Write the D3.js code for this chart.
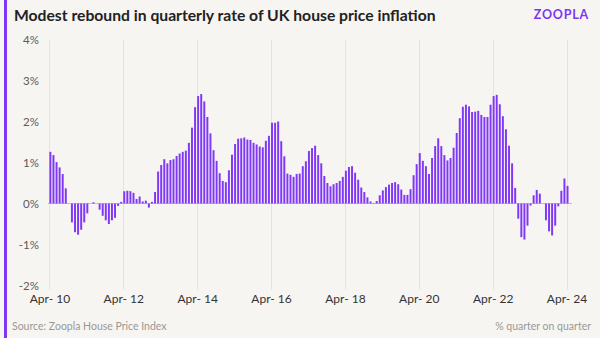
<!DOCTYPE html>
<meta charset="utf-8">
<style>
body { margin: 0; background: #f7f5f2; }
svg { display: block; font-family: Lato, "Open Sans", sans-serif; }
.grid line { stroke: #e6e3df; stroke-width: 1; }
.ylab text { font-size: 11.5px; fill: #5a5a5a; }
.xlab text { font-size: 12px; fill: #333; }
.bar { fill: #8038f7; }
</style>
<body>
<div id="chart"></div>
<script src="https://cdn.jsdelivr.net/npm/d3@7"></script>
<script>
// monthly, Apr 2010 .. Apr 2024
var startMonth = "2010-04",
    endMonth = "2024-04";

// % quarter on quarter
var qoq = [
  1.26, 1.18, 1.01, 0.88, 0.72, 0.37, 0.00, -0.46, -0.70, -0.76, -0.64, -0.46,
  -0.24, 0.00, 0.03, 0.00, -0.15, -0.30, -0.41, -0.50, -0.41, -0.35, -0.06, 0.04,
  0.30, 0.31, 0.30, 0.26, 0.11, 0.17, 0.05, 0.07, -0.10, 0.04, 0.28, 0.78,
  0.94, 1.08, 0.98, 1.06, 1.08, 1.16, 1.22, 1.26, 1.29, 1.48, 1.85, 2.35,
  2.62, 2.67, 2.49, 2.11, 1.71, 1.30, 1.04, 0.74, 0.55, 0.52, 0.81, 1.19,
  1.45, 1.58, 1.59, 1.61, 1.56, 1.55, 1.48, 1.44, 1.39, 1.37, 1.53, 1.65,
  1.97, 1.97, 2.00, 1.52, 1.15, 0.73, 0.70, 0.65, 0.72, 0.73, 0.91, 1.03,
  1.28, 1.35, 1.41, 1.18, 0.98, 0.67, 0.50, 0.42, 0.47, 0.50, 0.55, 0.65,
  0.80, 0.89, 0.91, 0.75, 0.58, 0.39, 0.28, 0.15, 0.05, 0.01, 0.06, 0.20,
  0.32, 0.40, 0.46, 0.50, 0.52, 0.47, 0.34, 0.21, 0.21, 0.35, 0.69, 0.96,
  1.23, 1.04, 0.91, 0.72, 1.11, 1.40, 1.59, 1.40, 1.18, 1.05, 1.11, 1.36,
  1.72, 2.08, 2.36, 2.41, 2.37, 2.23, 2.24, 2.26, 2.16, 2.11, 2.11, 2.41,
  2.62, 2.65, 2.42, 2.13, 1.81, 1.41, 0.98, 0.38, -0.37, -0.82, -0.88, -0.54,
  -0.05, 0.20, 0.33, 0.24, 0.00, -0.41, -0.68, -0.78, -0.54, -0.07, 0.31, 0.61,
  0.43
];

var tickMonths = ["2010-04", "2012-04", "2014-04", "2016-04", "2018-04", "2020-04", "2022-04", "2024-04"];
var tickLabels = ["Apr- 10", "Apr- 12", "Apr- 14", "Apr- 16", "Apr- 18", "Apr- 20", "Apr- 22", "Apr- 24"];
var yTicks = [-2, -1, 0, 1, 2, 3, 4];

var title = "Modest rebound in quarterly rate of UK house price inflation",
    source = "Source: Zoopla House Price Index",
    unitNote = "% quarter on quarter";

var parseM = d3.timeParse("%Y-%m"),
    fmtM = d3.timeFormat("%Y-%m");
var months = d3.timeMonth.range(parseM(startMonth), d3.timeMonth.offset(parseM(endMonth), 1)).map(fmtM);
var data = months.map(function(m, i) { return {month: m, value: qoq[i]}; });

var W = 600, H = 338;
var svg = d3.select("#chart").append("svg").attr("width", W).attr("height", H);

svg.append("rect").attr("width", W).attr("height", H).attr("fill", "#f7f5f2");
svg.append("rect").attr("x", 4).attr("y", 0).attr("width", 3).attr("height", H).attr("fill", "#7d36f6");

var x = d3.scaleBand().domain(months).range([49.4, 569.6]).paddingInner(0.36).paddingOuter(0.18).align(0);
var step = x.step();
var y = d3.scaleLinear().domain([-2, 4]).range([285.5, 39.5]);

// vertical grid at tick months (band start)
svg.append("g").attr("class", "grid")
  .selectAll("line").data(tickMonths).enter().append("line")
  .attr("x1", function(d) { return Math.round(49.4 + months.indexOf(d) * step) + 0.5; })
  .attr("x2", function(d) { return Math.round(49.4 + months.indexOf(d) * step) + 0.5; })
  .attr("y1", y(4)).attr("y2", y(-2) + 4);

svg.append("line")
  .attr("x1", 48).attr("x2", 572)
  .attr("y1", y(0)).attr("y2", y(0))
  .attr("stroke", "#c4c1bd").attr("stroke-width", 1);

svg.selectAll(".bar").data(data).enter().append("rect")
  .attr("class", "bar")
  .attr("x", function(d) { return x(d.month); })
  .attr("width", x.bandwidth())
  .attr("y", function(d) { return y(Math.max(0, d.value)); })
  .attr("height", function(d) { return Math.abs(y(d.value) - y(0)); });

// y labels
svg.append("g").attr("class", "ylab")
  .selectAll("text").data(yTicks).enter().append("text")
  .attr("x", 39).attr("y", function(d) { return y(d); })
  .attr("dy", "0.35em").attr("text-anchor", "end")
  .text(function(d) { return d + "%"; });

// x labels
svg.append("g").attr("class", "xlab")
  .selectAll("text").data(tickMonths).enter().append("text")
  .attr("x", function(d) { return 49.4 + months.indexOf(d) * step + 0.5; })
  .attr("y", 303).attr("text-anchor", "middle")
  .text(function(d, i) { return tickLabels[i]; });

svg.append("text").attr("x", 14).attr("y", 21)
  .attr("font-size", 15.7).attr("font-weight", 700).attr("fill", "#222")
  .text(title);

svg.append("text").attr("x", 589).attr("y", 19).attr("text-anchor", "end")
  .attr("font-size", 12.5).attr("font-weight", 700).attr("letter-spacing", 0.8).attr("fill", "#7d36f6")
  .text("ZOOPLA");

svg.append("text").attr("x", 12).attr("y", 330)
  .attr("font-size", 10.5).attr("fill", "#9a9895")
  .text(source);

svg.append("text").attr("x", 591).attr("y", 330).attr("text-anchor", "end")
  .attr("font-size", 10.5).attr("fill", "#9a9895")
  .text(unitNote);
</script>
